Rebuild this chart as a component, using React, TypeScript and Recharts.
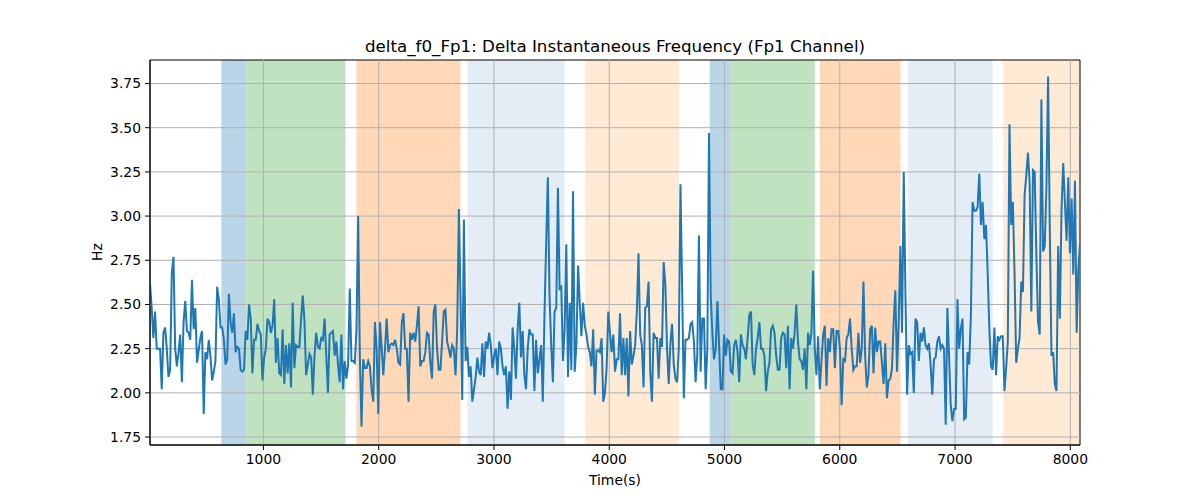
import React from 'react';
import { LineChart, Line, XAxis, YAxis, ReferenceArea, ReferenceLine } from 'recharts';

const HZ: number[] = [
  2.62, 2.48, 2.31, 2.46, 2.25, 2.25, 2.25, 2.02, 2.34, 2.37,
  2.25, 2.09, 2.13, 2.68, 2.77, 2.25, 2.15, 2.23, 2.33, 2.06,
  2.40, 2.52, 2.35, 2.34, 2.30, 2.64, 2.36, 2.48, 2.17, 2.24,
  2.31, 2.35, 1.88, 2.23, 2.19, 2.30, 2.21, 2.07, 2.12, 2.18,
  2.60, 2.53, 2.37, 2.37, 2.30, 2.16, 2.19, 2.56, 2.40, 2.34,
  2.45, 2.23, 2.26, 2.25, 2.13, 2.12, 2.13, 2.35, 2.30, 2.50,
  2.42, 2.11, 2.30, 2.30, 2.39, 2.35, 2.33, 2.07, 2.20, 2.25,
  2.42, 2.40,

  2.34, 2.38, 2.53, 2.17, 2.31, 2.11, 2.10, 2.36, 2.05, 2.27,
  2.11, 2.28, 2.03, 2.51, 2.14, 2.27, 2.26, 2.26, 2.42, 2.55,
  2.41, 2.10, 2.16, 2.22, 2.20, 1.99, 2.21, 2.34, 2.26, 2.25,
  2.31, 2.30, 2.42, 2.21, 2.00, 2.33, 2.34, 2.35, 2.21, 2.29,
  2.16, 2.06, 2.33, 2.02, 2.18, 2.08, 2.16, 2.59, 2.18, 2.18,
  2.17, 2.36, 3.00, 2.21, 1.81, 2.19, 2.14, 2.14, 2.18, 2.15,
  2.02, 1.95, 2.40, 2.25, 1.88,

  2.40, 2.25, 2.10, 2.25, 2.42, 2.23, 2.27, 2.28, 2.27, 2.30,
  2.25, 2.17, 2.16, 2.40, 2.45, 2.25, 2.25, 1.95, 2.34, 2.30,
  2.34, 2.29, 2.38, 2.49, 2.15, 2.18, 2.18, 2.23, 2.34, 2.33,
  2.17, 2.08, 2.46, 2.50, 2.25, 2.13, 2.13, 2.29, 2.46, 2.47,
  2.29, 2.25, 2.20, 2.27, 2.25, 2.10, 2.36, 3.04, 2.52, 1.96,
  2.98, 2.18, 2.26, 2.09, 2.15, 1.95, 2.02, 2.09, 2.20, 2.12,
  2.10, 2.28, 2.09, 2.29, 2.25, 2.34, 2.27, 2.14, 2.21, 2.25,
  2.10,

  2.29, 2.25, 2.15, 2.10, 2.15, 1.91, 2.12, 1.96, 2.37, 2.25,
  2.08, 2.36, 2.51, 2.20, 2.35, 2.10, 2.02, 2.25, 2.36, 2.33,
  2.33, 2.01, 2.30, 2.11, 2.19, 2.27, 1.95, 2.44, 2.85, 3.22,
  2.55, 2.27, 2.06, 2.46, 2.48, 3.16, 2.59, 2.60, 2.18, 2.36,
  2.84, 2.09, 2.51, 2.13, 3.14, 2.12, 2.27, 2.72, 2.51, 2.32,
  2.51, 2.38, 2.33, 2.26, 2.23, 2.15, 2.36, 1.99, 2.24, 2.24,
  2.23, 2.31, 1.95, 2.00, 2.14, 2.46, 2.34, 2.23, 2.33, 2.12,
  2.19, 2.19,

  2.45, 2.10, 2.31, 2.10, 2.31, 1.98, 2.35, 2.16, 2.21, 2.27,
  2.46, 2.79, 2.33, 2.27, 2.03, 2.48, 2.49, 2.63, 2.12, 1.95,
  2.34, 2.31, 2.31, 2.08, 2.31, 2.26, 2.74, 2.61, 2.25, 2.05,
  2.28, 2.39, 2.16, 2.08, 2.06, 2.25, 3.18, 2.59, 1.97, 2.30,
  2.30, 2.31, 2.39, 2.40, 2.29, 2.06, 2.21, 2.89, 2.12, 2.42,
  2.42, 2.02, 2.25, 3.47, 2.55, 2.34, 2.19, 2.25, 2.52, 2.27,
  2.02, 2.02, 2.33, 2.21, 2.30, 2.29, 2.12, 2.11, 2.27, 2.30,
  2.23, 2.06,

  2.33, 2.27, 2.25, 2.19, 2.31, 2.44, 2.46, 2.16, 2.10, 2.25,
  2.31, 2.40, 2.25, 2.25, 2.21, 2.01, 2.12, 2.17, 2.36, 2.38,
  2.34, 2.21, 2.13, 2.13, 2.31, 2.34, 2.33, 2.14, 2.38, 2.02,
  2.31, 2.25, 2.34, 2.50, 2.29, 2.19, 2.18, 2.13, 2.25, 2.02,
  2.34, 2.27, 2.34, 2.69, 2.25, 2.10, 2.32, 2.02, 2.18, 2.33,
  2.38, 2.04, 2.31, 2.23, 2.36, 2.36, 2.14, 2.35, 2.35, 2.25,
  1.93, 2.19, 2.18, 2.31, 2.33, 2.42, 2.25, 2.13, 2.15, 2.15,
  2.34,

  2.17, 2.25, 2.63, 2.21, 2.03, 2.10, 2.36, 2.38, 2.11, 2.37,
  2.23, 2.29, 2.29, 2.17, 2.05, 2.28, 1.97, 2.07, 2.08, 2.14,
  2.40, 2.58, 2.12, 2.40, 2.83, 2.34, 3.25, 2.57, 1.99, 2.27,
  2.22, 2.23, 2.00, 2.42, 2.40, 2.18, 2.34, 2.29, 2.37, 2.27,
  2.25, 2.28, 2.16, 1.99, 2.19, 2.20, 2.29, 2.32, 2.25, 2.27,
  2.25, 1.82, 2.48, 2.21, 1.93, 1.84, 1.91, 1.91, 2.53, 2.25,
  2.36, 2.42, 1.85, 1.86, 2.23, 2.16, 2.44,

  3.08, 3.03, 3.03, 3.05, 3.24, 2.95, 3.08, 2.87, 2.95, 2.68,
  2.36, 2.15, 2.13, 2.37, 2.10, 2.32, 2.30, 2.32, 2.32, 2.01,
  2.14, 2.29, 3.52, 2.95, 3.08, 2.68, 2.17, 2.25, 2.31, 2.63,
  2.57, 3.12, 3.23, 3.36, 3.19, 2.46, 3.26, 3.25, 2.78, 2.40,
  2.33, 3.66, 2.80, 2.83, 3.16, 3.79, 2.93, 2.21, 2.23, 2.05,
  2.01, 2.83, 2.42, 3.04, 3.30, 3.08, 2.86, 3.22, 2.79, 3.10,
  2.67, 3.20, 2.34, 2.70, 2.84,
];

// recording span in seconds
const T_START = 16;
const T_END = 8084;

const X_TICKS = [1000, 2000, 3000, 4000, 5000, 6000, 7000, 8000];
const Y_TICKS = [1.75, 2.0, 2.25, 2.5, 2.75, 3.0, 3.25, 3.5, 3.75];
const Y_MIN = 1.705;
const Y_MAX = 3.883;

// shaded stages (seconds)
const BAND_START = [635, 850, 1807, 2771, 3789, 4872, 5054, 5827, 6593, 7418];
const BAND_END = [850, 1712, 2710, 3613, 4605, 5054, 5784, 6527, 7326, 8084];
const BAND_KIND = ['blue', 'green', 'orange', 'lightblue', 'lightorange', 'blue', 'green', 'orange', 'lightblue', 'lightorange'];

const BAND_FILL: Record<string, string> = {
  blue: '#bad4e8',
  green: '#c0e2c0',
  orange: '#ffd9b7',
  lightblue: '#e4ecf6',
  lightorange: '#ffead6',
};

const FONT = 'DejaVu Sans, sans-serif';
const GRID = '#b0b0b0';

const data = HZ.map((v, i) => ({
  t: T_START + (i * (T_END - T_START)) / (HZ.length - 1),
  v,
}));

export default function App() {
  return (
    <div style={{ position: 'absolute', left: 0, top: 0, width: 1200, height: 500, background: '#fff' }}>
      <LineChart width={1200} height={500} data={data} margin={{ top: 60, right: 120, bottom: 15, left: 90 }}>
        <XAxis
          dataKey="t"
          type="number"
          domain={[T_START, T_END]}
          ticks={X_TICKS}
          allowDataOverflow
          height={40}
          tickSize={5}
          tickMargin={4}
          stroke="#000"
          tickLine={{ stroke: '#000' }}
          tick={{ fill: '#000', fontSize: 13.9, fontFamily: FONT }}
        />
        <YAxis
          type="number"
          domain={[Y_MIN, Y_MAX]}
          ticks={Y_TICKS}
          allowDataOverflow
          width={60}
          tickSize={5}
          tickMargin={4}
          stroke="#000"
          tickLine={{ stroke: '#000' }}
          tickFormatter={(v: number) => v.toFixed(2)}
          tick={{ fill: '#000', fontSize: 13.9, fontFamily: FONT }}
        />
        {BAND_START.map((s, i) => (
          <ReferenceArea
            key={'band' + i}
            x1={s}
            x2={BAND_END[i]}
            y1={Y_MIN}
            y2={Y_MAX}
            fill={BAND_FILL[BAND_KIND[i]]}
            fillOpacity={1}
            stroke="none"
            ifOverflow="hidden"
          />
        ))}
        {X_TICKS.map((x) => (
          <ReferenceLine key={'gx' + x} x={x} stroke={GRID} strokeWidth={1} />
        ))}
        {Y_TICKS.map((y) => (
          <ReferenceLine key={'gy' + y} y={y} stroke={GRID} strokeWidth={1} />
        ))}
        <Line
          type="linear"
          dataKey="v"
          stroke="#1f77b4"
          strokeWidth={2}
          dot={false}
          activeDot={false}
          isAnimationActive={false}
        />
        <ReferenceArea x1={T_START} x2={T_END} y1={Y_MIN} y2={Y_MAX} fill="none" stroke="#000" strokeWidth={1} />
      </LineChart>

      <svg width={1200} height={500} style={{ position: 'absolute', left: 0, top: 0, pointerEvents: 'none' }}>
        <text x={615} y={52} textAnchor="middle" fontFamily={FONT} fontSize={16.7} fill="#000">
          delta_f0_Fp1: Delta Instantaneous Frequency (Fp1 Channel)
        </text>
        <text x={615} y={485} textAnchor="middle" fontFamily={FONT} fontSize={13.9} fill="#000">
          Time(s)
        </text>
        <text
          x={102}
          y={252}
          textAnchor="middle"
          fontFamily={FONT}
          fontSize={13.9}
          fill="#000"
          transform="rotate(-90, 102, 252)"
        >
          Hz
        </text>
      </svg>
    </div>
  );
}
